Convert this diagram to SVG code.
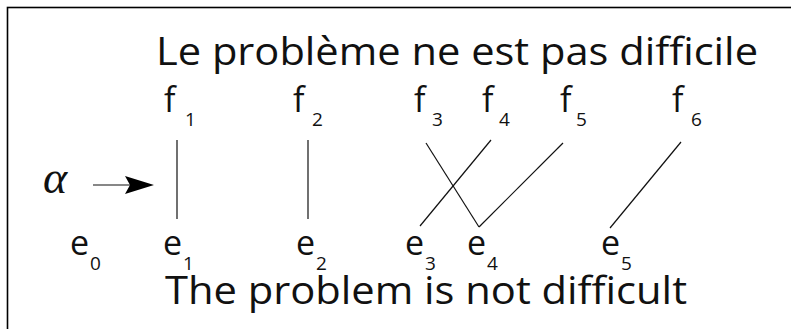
<svg xmlns="http://www.w3.org/2000/svg" width="791" height="329" viewBox="0 0 791 329">
<style>
.t{font-family:"Open Sans","DejaVu Sans",sans-serif;fill:#111}
.big{font-size:38px}
.lb{font-size:34px}
.sb{font-size:19px}
.ln{stroke:#111;stroke-width:1.2;fill:none}
</style>
<rect x="0" y="0" width="791" height="329" fill="#fff"/>
<rect x="7.5" y="7.5" width="800" height="340" fill="none" stroke="#000" stroke-width="1.6"/>
<g id="title"><text class="t big" x="156" y="65" textLength="602" lengthAdjust="spacingAndGlyphs">Le problème ne est pas difficile</text></g>
<g id="subtitle"><text class="t big" x="165" y="304" textLength="522" lengthAdjust="spacingAndGlyphs">The problem is not difficult</text></g>
<g id="f1"><text class="t lb" x="164" y="112">f</text><text class="t sb" x="185" y="126">1</text></g>
<g id="f2"><text class="t lb" x="293" y="112">f</text><text class="t sb" x="312" y="126">2</text></g>
<g id="f3"><text class="t lb" x="414" y="112">f</text><text class="t sb" x="432" y="126">3</text></g>
<g id="f4"><text class="t lb" x="482" y="112">f</text><text class="t sb" x="499" y="126">4</text></g>
<g id="f5"><text class="t lb" x="560" y="112">f</text><text class="t sb" x="576" y="126">5</text></g>
<g id="f6"><text class="t lb" x="672" y="112">f</text><text class="t sb" x="691" y="126">6</text></g>
<g id="e0"><text class="t lb" x="70" y="255">e</text><text class="t sb" x="90" y="270">0</text></g>
<g id="e1"><text class="t lb" x="163" y="255">e</text><text class="t sb" x="183" y="270">1</text></g>
<g id="e2"><text class="t lb" x="296" y="255">e</text><text class="t sb" x="316" y="270">2</text></g>
<g id="e3"><text class="t lb" x="405" y="255">e</text><text class="t sb" x="425" y="270">3</text></g>
<g id="e4"><text class="t lb" x="467" y="255">e</text><text class="t sb" x="487" y="270">4</text></g>
<g id="e5"><text class="t lb" x="601" y="255">e</text><text class="t sb" x="621" y="270">5</text></g>
<g id="alpha"><text x="43" y="193" font-family="'Liberation Serif',serif" font-style="italic" font-size="46" fill="#111">α</text></g>
<g id="connectors">
<line class="ln" x1="93" y1="185" x2="130" y2="185" stroke-width="1.8"/>
<path d="M154,185 L125,176 L130,185 L125,194 Z" fill="#000"/>
<line class="ln" x1="177" y1="140" x2="177" y2="219"/>
<line class="ln" x1="308" y1="140" x2="308" y2="219"/>
<line class="ln" x1="426" y1="143" x2="479" y2="227"/>
<line class="ln" x1="491" y1="140" x2="420" y2="226"/>
<line class="ln" x1="563" y1="143" x2="479" y2="227"/>
<line class="ln" x1="681" y1="142" x2="610" y2="228"/>
</g>
</svg>
